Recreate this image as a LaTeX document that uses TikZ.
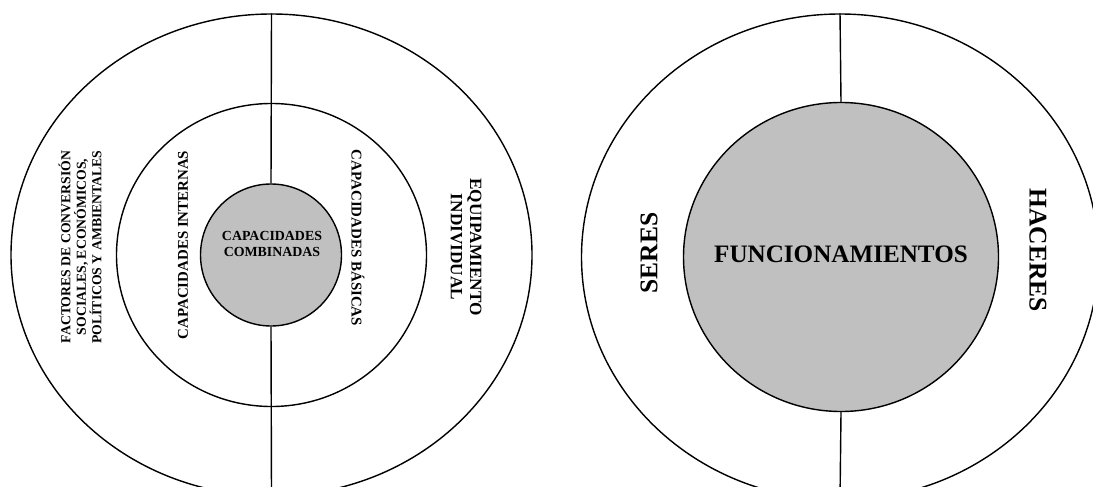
\documentclass[tikz,border=0pt]{standalone}
\usepackage{fontspec}
\setmainfont{Liberation Serif}
\usetikzlibrary{shapes.geometric,positioning}
\definecolor{coregray}{RGB}{192,192,192}

\begin{document}
\begin{tikzpicture}[
    ring/.style={draw, ellipse, line width=0.8pt, inner sep=0pt},
    core/.style={ring, fill=coregray},
    lbl/.style={align=center, font=\bfseries, inner sep=0pt}
  ]
  \useasboundingbox[fill=white] (0,0) rectangle (21.86,9.72);

  % left diagram
  \node[ring, minimum width=10.42cm, minimum height=9.64cm] (outerL) at (5.43,4.62) {};
  \node[ring, minimum width=6.2cm, minimum height=6.06cm] (innerL) at (5.43,4.62) {};
  \node[core, minimum width=2.82cm, minimum height=2.84cm] (coreL) at (5.42,4.62) {};
  \draw[line width=0.8pt] (outerL.north) -- (coreL.north);
  \draw[line width=0.8pt] (coreL.south) -- (outerL.south);

  \node[lbl, font=\bfseries\fontsize{7.9}{9}\selectfont] (combi) at (5.44,4.84) {CAPACIDADES\\COMBINADAS};
  \node[lbl, rotate=90, font=\bfseries\fontsize{7.8}{8.8}\selectfont] (factores) at (1.6,4.78)
    {FACTORES DE CONVERSIÓN\\SOCIALES, ECONÓMICOS,\\POLÍTICOS Y AMBIENTALES};
  \node[lbl, rotate=90, font=\bfseries\fontsize{8.5}{10}\selectfont] (internas) at (3.66,4.82) {CAPACIDADES INTERNAS};
  \node[lbl, rotate=-90, font=\bfseries\fontsize{8.5}{10}\selectfont] (basicas) at (7.16,4.96) {CAPACIDADES BÁSICAS};
  \node[lbl, rotate=-90, font=\bfseries\fontsize{9.8}{11}\selectfont] (equipo) at (9.32,4.78) {EQUIPAMIENTO\\INDIVIDUAL};

  % right diagram
  \node[ring, minimum width=10.34cm, minimum height=9.72cm] (outerR) at (16.8,4.58) {};
  \node[core, minimum width=6.3cm, minimum height=6.18cm] (coreR) at (16.82,4.58) {};
  \draw[line width=0.8pt] (outerR.north) -- (coreR.north);
  \draw[line width=0.8pt] (coreR.south) -- (outerR.south);

  \node[lbl, font=\bfseries\fontsize{14.3}{16}\selectfont] (funcion) at (16.82,4.64) {FUNCIONAMIENTOS};
  \node[lbl, rotate=90, font=\bfseries\fontsize{14.5}{16}\selectfont] (seres) at (12.98,4.66) {SERES};
  \node[lbl, rotate=-90, font=\bfseries\fontsize{14.5}{16}\selectfont] (haceres) at (20.76,4.72) {HACERES};
\end{tikzpicture}
\end{document}
